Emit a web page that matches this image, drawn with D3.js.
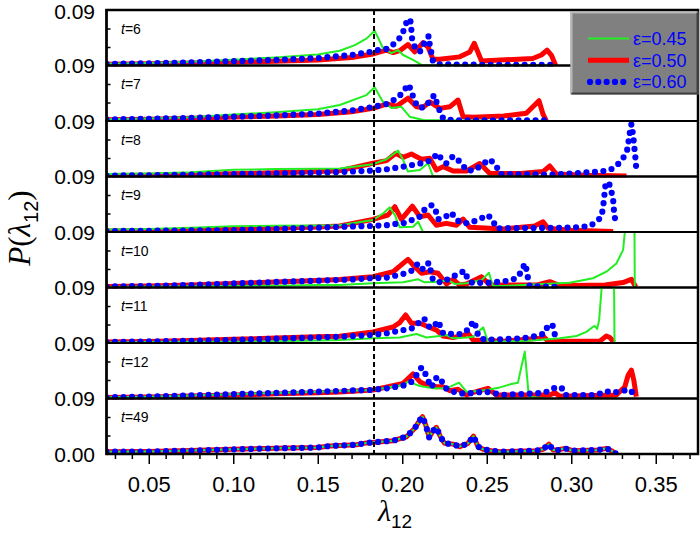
<!DOCTYPE html>
<html><head><meta charset="utf-8">
<script src="https://cdn.jsdelivr.net/npm/d3@7"></script>
<style>body{margin:0;background:#fff}svg{display:block}</style>
</head><body><svg id="c" width="700" height="534"></svg>
<script>
// ---------- data ----------
const tLabels = ["6","7","8","9","10","11","12","49"];
const seriesLabels = ["ε=0.45","ε=0.50","ε=0.60"];
const yTickLabels = ["0.09","0.09","0.09","0.09","0.09","0.09","0.09","0.09","0.00"];
const xMajorTicks = [0.05,0.10,0.15,0.20,0.25,0.30,0.35];
const xMinorTicks = [0.03,0.04,0.06,0.07,0.08,0.09,0.11,0.12,0.13,0.14,0.16,0.17,0.18,0.19,0.21,0.22,0.23,0.24,0.26,0.27,0.28,0.29,0.31,0.32,0.33,0.34,0.36,0.37];
const yMinorTicks = [0.03,0.06];
const xDomain = [0.025,0.375];
const yDomain = [0,0.09];
const lambdaC = 0.1833;

const green_t6 = [[0.025,0.003],[0.05,0.004],[0.075,0.006],[0.10,0.0095],[0.125,0.013],[0.15,0.018],[0.163,0.024],[0.172,0.033],[0.179,0.044],[0.1837,0.0565],[0.1886,0.028],[0.1936,0.020],[0.1975,0.025],[0.2005,0.017],[0.2064,0.009],[0.2114,0.001],[0.25,0.0005],[0.29,0.0005]];
const red_t6 = [[0.025,0.0022],[0.05,0.003],[0.075,0.004],[0.10,0.0055],[0.125,0.007],[0.15,0.009],[0.17,0.013],[0.1827,0.0187],[0.1907,0.025],[0.1946,0.021],[0.1985,0.024],[0.2034,0.034],[0.2074,0.022],[0.2123,0.037],[0.2153,0.030],[0.2182,0.010],[0.2222,0.010],[0.234,0.014],[0.240,0.022],[0.2426,0.036],[0.2469,0.0073],[0.2772,0.0114],[0.2823,0.017],[0.2857,0.025],[0.2882,0.017],[0.2908,0.0]];
const blue_t6 = [[0.025,0.0025],[0.05,0.0035],[0.075,0.005],[0.10,0.007],[0.125,0.009],[0.15,0.012],[0.17,0.017],[0.1808,0.022],[0.1857,0.025],[0.1907,0.027],[0.1956,0.036],[0.1999,0.049],[0.2015,0.063],[0.2034,0.076],[0.205,0.071],[0.2054,0.058],[0.2058,0.044],[0.2074,0.030],[0.2104,0.022],[0.2123,0.033],[0.2157,0.048],[0.2163,0.033],[0.2173,0.020],[0.2182,0.006],[0.2222,0.002],[0.25,0.001],[0.291,0.001]];

const green_t7 = [[0.025,0.003],[0.05,0.004],[0.075,0.006],[0.10,0.0105],[0.125,0.014],[0.15,0.019],[0.163,0.026],[0.1788,0.042],[0.1837,0.0546],[0.1886,0.031],[0.1936,0.021],[0.1995,0.023],[0.2044,0.007],[0.2123,0.0015],[0.25,0.0005],[0.285,0.0005]];
const red_t7 = [[0.025,0.0022],[0.05,0.003],[0.075,0.0045],[0.10,0.0065],[0.125,0.008],[0.15,0.0105],[0.17,0.015],[0.1827,0.0205],[0.1907,0.0275],[0.1966,0.024],[0.2034,0.037],[0.2084,0.023],[0.2123,0.022],[0.2163,0.031],[0.2222,0.0205],[0.2281,0.023],[0.233,0.034],[0.236,0.007],[0.242,0.006],[0.26,0.008],[0.2734,0.0125],[0.2809,0.033],[0.2833,0.011],[0.2853,0.0]];
const blue_t7 = [[0.025,0.0025],[0.05,0.0035],[0.075,0.005],[0.10,0.007],[0.125,0.009],[0.15,0.012],[0.17,0.017],[0.1808,0.022],[0.1907,0.0275],[0.1956,0.035],[0.2005,0.046],[0.2034,0.0595],[0.2054,0.050],[0.2068,0.035],[0.2094,0.022],[0.2133,0.022],[0.2167,0.034],[0.2189,0.042],[0.2212,0.023],[0.2242,0.004],[0.23,0.001],[0.285,0.001]];

const green_t8 = [[0.025,0.004],[0.05,0.005],[0.075,0.007],[0.10,0.011],[0.125,0.012],[0.15,0.0125],[0.163,0.013],[0.1827,0.020],[0.1907,0.028],[0.1975,0.042],[0.2005,0.027],[0.2034,0.008],[0.2104,0.0105],[0.2153,0.0215],[0.2182,0.0],[0.30,0.0]];
const red_t8 = [[0.025,0.0015],[0.05,0.002],[0.075,0.003],[0.10,0.0045],[0.125,0.006],[0.15,0.008],[0.163,0.0095],[0.1827,0.0215],[0.1907,0.0257],[0.1962,0.0376],[0.2005,0.031],[0.2054,0.0365],[0.2114,0.028],[0.2163,0.0295],[0.2202,0.0105],[0.2242,0.016],[0.2301,0.009],[0.238,0.009],[0.2459,0.021],[0.2518,0.005],[0.27,0.005],[0.2833,0.008],[0.2873,0.017],[0.2912,0.004],[0.31,0.002],[0.3327,0.001]];
const blue_t8 = [[0.025,0.0015],[0.05,0.002],[0.075,0.003],[0.10,0.004],[0.125,0.005],[0.15,0.006],[0.17,0.008],[0.1808,0.0095],[0.1907,0.0117],[0.2005,0.016],[0.2054,0.0185],[0.2114,0.0215],[0.2163,0.0257],[0.2182,0.029],[0.2208,0.0376],[0.2236,0.027],[0.2261,0.0215],[0.2301,0.033],[0.235,0.022],[0.238,0.0095],[0.243,0.0105],[0.2469,0.0185],[0.2518,0.028],[0.2557,0.017],[0.2577,0.004],[0.29,0.003],[0.3169,0.008],[0.3228,0.0105],[0.3267,0.017],[0.3306,0.029],[0.3332,0.044],[0.3346,0.070],[0.3356,0.085],[0.3366,0.067],[0.3376,0.040],[0.3382,0.024],[0.3385,0.0095]];

const green_t9 = [[0.025,0.004],[0.05,0.005],[0.075,0.007],[0.10,0.0095],[0.125,0.010],[0.15,0.0105],[0.163,0.011],[0.1827,0.0195],[0.1886,0.030],[0.1926,0.040],[0.1956,0.0276],[0.1985,0.0076],[0.2064,0.0086],[0.2094,0.0167],[0.2123,0.0],[0.30,0.0]];
const red_t9 = [[0.025,0.0015],[0.05,0.002],[0.075,0.003],[0.10,0.0045],[0.125,0.006],[0.15,0.008],[0.163,0.0097],[0.1827,0.0205],[0.1916,0.0276],[0.1956,0.041],[0.1995,0.0205],[0.206,0.042],[0.2104,0.0248],[0.2153,0.0276],[0.2202,0.011],[0.2261,0.014],[0.2321,0.011],[0.236,0.021],[0.2400,0.0076],[0.26,0.005],[0.2784,0.0097],[0.2833,0.0167],[0.2863,0.006],[0.30,0.003],[0.3248,0.001]];
const blue_t9 = [[0.025,0.0015],[0.05,0.002],[0.075,0.0025],[0.10,0.003],[0.125,0.005],[0.15,0.007],[0.17,0.009],[0.1808,0.0097],[0.1907,0.011],[0.1956,0.013],[0.2005,0.014],[0.2058,0.0195],[0.2104,0.0248],[0.2133,0.0368],[0.2176,0.0438],[0.2198,0.0346],[0.2212,0.0205],[0.2251,0.0238],[0.2291,0.0314],[0.2321,0.0195],[0.236,0.014],[0.24,0.015],[0.2448,0.0195],[0.2507,0.0276],[0.2537,0.018],[0.2557,0.006],[0.30,0.007],[0.311,0.0097],[0.3149,0.0167],[0.3179,0.0248],[0.3188,0.040],[0.3194,0.053],[0.3198,0.0654],[0.3204,0.080],[0.3224,0.079],[0.3238,0.0654],[0.3248,0.052],[0.3252,0.0368],[0.3258,0.0238],[0.3264,0.0097]];

const green_t10 = [[0.025,0.001],[0.05,0.0015],[0.075,0.002],[0.10,0.0024],[0.125,0.003],[0.15,0.004],[0.163,0.004],[0.1827,0.0068],[0.2005,0.0084],[0.2094,0.0133],[0.2133,0.0084],[0.2222,0.0095],[0.2271,0.012],[0.2311,0.0057],[0.238,0.0068],[0.2469,0.012],[0.2513,0.024],[0.2537,0.0024],[0.2596,0.0024],[0.2833,0.0057],[0.2991,0.0078],[0.3129,0.015],[0.3208,0.0256],[0.3267,0.039],[0.3307,0.061],[0.3317,0.09],[0.333,0.2],[0.3372,0.2],[0.3376,0.0]];
const red_t10 = [[0.025,0.0015],[0.05,0.0025],[0.075,0.004],[0.10,0.0065],[0.125,0.009],[0.15,0.0115],[0.163,0.013],[0.1827,0.0175],[0.1946,0.0256],[0.2005,0.039],[0.2034,0.0457],[0.2074,0.0337],[0.2114,0.023],[0.2163,0.0256],[0.2212,0.023],[0.2262,0.0057],[0.2301,0.0133],[0.234,0.004],[0.238,0.0057],[0.2469,0.0175],[0.2518,0.004],[0.28,0.004],[0.2873,0.0095],[0.2932,0.003],[0.32,0.004],[0.3306,0.008],[0.3356,0.0133],[0.3382,0.001]];
const blue_t10 = [[0.025,0.0015],[0.05,0.0025],[0.075,0.004],[0.10,0.0065],[0.125,0.009],[0.15,0.011],[0.17,0.013],[0.1808,0.015],[0.1907,0.016],[0.2005,0.0219],[0.2054,0.027],[0.2094,0.039],[0.2123,0.0295],[0.2157,0.040],[0.2182,0.012],[0.2232,0.0078],[0.2281,0.015],[0.233,0.0219],[0.237,0.027],[0.2389,0.012],[0.2419,0.0068],[0.2469,0.0078],[0.2524,0.0078],[0.2577,0.0095],[0.2626,0.011],[0.2676,0.015],[0.2705,0.0256],[0.2725,0.039],[0.2735,0.0295],[0.2744,0.015],[0.2754,0.002],[0.293,0.001]];

const green_t11 = [[0.025,0.001],[0.05,0.0015],[0.075,0.002],[0.10,0.002],[0.125,0.003],[0.15,0.004],[0.163,0.005],[0.1827,0.0076],[0.1985,0.009],[0.2084,0.0146],[0.2143,0.009],[0.2222,0.0113],[0.2262,0.013],[0.2301,0.0076],[0.238,0.009],[0.2419,0.010],[0.2479,0.0254],[0.2507,0.002],[0.2744,0.0035],[0.2932,0.0076],[0.3031,0.0113],[0.309,0.018],[0.3129,0.0265],[0.314,0.0275],[0.3153,0.0227],[0.3165,0.037],[0.3180,0.09],[0.3185,0.2],[0.3250,0.2],[0.3256,0.001]];
const red_t11 = [[0.025,0.0015],[0.05,0.0025],[0.075,0.004],[0.10,0.006],[0.125,0.008],[0.15,0.010],[0.163,0.011],[0.1827,0.018],[0.1946,0.026],[0.1985,0.033],[0.202,0.0454],[0.2054,0.032],[0.2104,0.032],[0.2153,0.0264],[0.2203,0.021],[0.2242,0.0113],[0.2301,0.009],[0.236,0.012],[0.2389,0.0157],[0.2419,0.005],[0.26,0.003],[0.2814,0.0076],[0.2833,0.0113],[0.2863,0.003],[0.3169,0.003],[0.3208,0.0113],[0.3228,0.009],[0.3252,0.001]];
const blue_t11 = [[0.025,0.0015],[0.05,0.0025],[0.075,0.0035],[0.10,0.005],[0.125,0.007],[0.15,0.009],[0.17,0.011],[0.1808,0.013],[0.1907,0.0157],[0.2005,0.021],[0.2058,0.0238],[0.2094,0.032],[0.2129,0.040],[0.2159,0.0264],[0.2182,0.025],[0.2212,0.036],[0.2242,0.0157],[0.2301,0.0146],[0.235,0.0146],[0.24,0.0238],[0.2419,0.036],[0.2439,0.025],[0.2449,0.0113],[0.2488,0.005],[0.2577,0.006],[0.27,0.0076],[0.2744,0.009],[0.2794,0.0113],[0.2843,0.0157],[0.2863,0.0292],[0.2889,0.0292],[0.2902,0.0146],[0.291,0.002]];

const green_t12 = [[0.025,0.002],[0.05,0.003],[0.075,0.005],[0.10,0.007],[0.125,0.009],[0.15,0.011],[0.163,0.012],[0.1827,0.0138],[0.2005,0.0219],[0.2034,0.0273],[0.2104,0.0203],[0.2182,0.0165],[0.2261,0.0165],[0.2336,0.0257],[0.238,0.011],[0.2419,0.0115],[0.2498,0.0138],[0.2577,0.018],[0.2646,0.0235],[0.2685,0.0257],[0.2705,0.0516],[0.2725,0.076],[0.2735,0.046],[0.2749,0.003],[0.285,0.0]];
const red_t12 = [[0.025,0.0015],[0.05,0.0025],[0.075,0.004],[0.10,0.0055],[0.125,0.0075],[0.15,0.0095],[0.163,0.0105],[0.1827,0.0138],[0.2005,0.0246],[0.2064,0.040],[0.2104,0.0273],[0.2143,0.022],[0.2202,0.019],[0.2242,0.019],[0.2281,0.0127],[0.233,0.015],[0.238,0.0057],[0.24,0.0084],[0.2507,0.0165],[0.2557,0.0057],[0.2873,0.0057],[0.2902,0.0095],[0.2932,0.0035],[0.3267,0.0057],[0.3317,0.019],[0.3337,0.038],[0.3356,0.046],[0.337,0.030],[0.3385,0.003]];
const blue_t12 = [[0.025,0.002],[0.05,0.003],[0.075,0.005],[0.10,0.007],[0.125,0.009],[0.15,0.011],[0.17,0.013],[0.1808,0.0138],[0.1907,0.0165],[0.2005,0.0208],[0.2054,0.027],[0.2084,0.038],[0.2114,0.0505],[0.2133,0.0425],[0.2153,0.029],[0.2173,0.018],[0.2198,0.033],[0.2226,0.034],[0.2246,0.019],[0.2281,0.0127],[0.234,0.0084],[0.2386,0.0078],[0.2425,0.0095],[0.2488,0.011],[0.2537,0.0095],[0.2586,0.0057],[0.2794,0.0084],[0.2843,0.0095],[0.2893,0.0165],[0.2942,0.018],[0.2962,0.0057],[0.3149,0.0057],[0.3202,0.012],[0.3252,0.0095],[0.3303,0.0127],[0.3352,0.0138],[0.336,0.01]];

const all_t49 = [[0.025,0.0037],[0.05,0.004],[0.075,0.0055],[0.10,0.0076],[0.125,0.0092],[0.15,0.0105],[0.157,0.013],[0.1729,0.015],[0.1788,0.018],[0.1946,0.0216],[0.2025,0.028],[0.2074,0.0416],[0.2104,0.055],[0.212,0.0605],[0.2139,0.047],[0.2159,0.027],[0.2183,0.0378],[0.2202,0.0432],[0.2226,0.028],[0.2251,0.0173],[0.2301,0.016],[0.234,0.0119],[0.2389,0.0173],[0.2422,0.029],[0.2448,0.0119],[0.2479,0.0076],[0.2528,0.0054],[0.2577,0.0037],[0.2794,0.0054],[0.2833,0.0076],[0.2868,0.016],[0.2893,0.0065],[0.2922,0.0065],[0.2962,0.0092],[0.3011,0.0054],[0.3159,0.0065],[0.3208,0.0092],[0.3238,0.0054],[0.3267,0.0]];

const greenSeries = [green_t6,green_t7,green_t8,green_t9,green_t10,green_t11,green_t12,all_t49];
const redSeries   = [red_t6,red_t7,red_t8,red_t9,red_t10,red_t11,red_t12,all_t49];
const blueSeries  = [blue_t6,blue_t7,blue_t8,blue_t9,blue_t10,blue_t11,blue_t12,all_t49];

// ---------- layout ----------
const L=106.5, R=698, T=10, B=454;
const nP = tLabels.length, ph = (B-T)/nP;
const FONT = "'Liberation Sans', Arial, sans-serif";
const SERIF = "'Liberation Serif', 'Times New Roman', serif";
const GREEN="#22ee22", RED="#ff0000", BLUE="#0000ff";

const svg = d3.select("#c");
const x = d3.scaleLinear().domain(xDomain).range([L,R]);
const line = d3.line().x(d=>x(d[0]));

const defs = svg.append("defs");

tLabels.forEach((lab,i)=>{
  const y0 = T + i*ph;
  const y = d3.scaleLinear().domain(yDomain).range([y0+ph, y0]);
  defs.append("clipPath").attr("id","cp"+i).append("rect")
    .attr("x",L).attr("y",y0).attr("width",R-L).attr("height",ph+1);
  const g = svg.append("g").attr("clip-path","url(#cp"+i+")");
  const ln = line.y(d=>y(d[1]));
  g.append("path").datum(redSeries[i]).attr("d",ln).attr("fill","none")
    .attr("stroke",RED).attr("stroke-width",5).attr("stroke-linejoin","round");
  g.append("path").datum(greenSeries[i]).attr("d",ln).attr("fill","none")
    .attr("stroke",GREEN).attr("stroke-width",2).attr("stroke-linejoin","round");
  g.append("path").datum(blueSeries[i]).attr("d",ln).attr("fill","none")
    .attr("stroke",BLUE).attr("stroke-width",6.2).attr("stroke-linecap","round")
    .attr("stroke-dasharray","0,8.5");
  // inner y ticks
  svg.append("g").attr("transform",`translate(${L},0)`)
    .call(d3.axisRight(y).tickValues(yMinorTicks).tickSize(4).tickFormat(""))
    .call(a=>{a.select(".domain").remove(); a.selectAll("line").attr("stroke","#000").attr("stroke-width",1.5);});
  // panel frame
  svg.append("rect").attr("x",L).attr("y",y0).attr("width",R-L).attr("height",ph)
    .attr("fill","none").attr("stroke","#000").attr("stroke-width",2);
  // t label
  const t = svg.append("text").attr("x",121).attr("y",y0+23.5)
    .attr("font-family",FONT).attr("font-size",14).attr("fill","#000");
  t.append("tspan").attr("font-style","italic").text("t");
  t.append("tspan").text("="+lab);
});

// y tick labels at panel boundaries
yTickLabels.forEach((s,i)=>{
  svg.append("text").attr("x",95).attr("y",i===0 ? T+1.5 : T+i*ph).attr("dy","0.36em")
    .attr("text-anchor","end").attr("font-family",FONT).attr("font-size",21)
    .attr("fill","#000").text(s);
});

// dashed reference line
svg.append("line").attr("x1",x(lambdaC)).attr("x2",x(lambdaC)).attr("y1",T).attr("y2",B)
  .attr("stroke","#000").attr("stroke-width",2).attr("stroke-dasharray","5,3");

// x axis
svg.append("g").attr("transform",`translate(0,${B})`)
  .call(d3.axisBottom(x).tickValues(xMinorTicks).tickSize(5).tickFormat(""))
  .call(a=>{a.select(".domain").remove(); a.selectAll("line").attr("stroke","#000").attr("stroke-width",1.5);});
svg.append("g").attr("transform",`translate(0,${B})`)
  .call(d3.axisBottom(x).tickValues(xMajorTicks).tickSize(10).tickPadding(12).tickFormat(d3.format(".2f")))
  .call(a=>{a.select(".domain").remove(); a.selectAll("line").attr("stroke","#000").attr("stroke-width",1.5);
    a.selectAll("text").attr("font-family",FONT).attr("font-size",22).attr("fill","#000");});

// outer frame
svg.append("rect").attr("x",L).attr("y",T).attr("width",R-L).attr("height",B-T)
  .attr("fill","none").attr("stroke","#000").attr("stroke-width",2.5);

// axis titles
const yt = svg.append("text").attr("transform","translate(30,228) rotate(-90)")
  .attr("text-anchor","middle").attr("font-family",SERIF).attr("font-size",31).attr("fill","#000");
yt.append("tspan").attr("font-style","italic").text("P");
yt.append("tspan").text("(");
yt.append("tspan").attr("font-style","italic").text("λ");
yt.append("tspan").attr("font-family",FONT).attr("font-size",20).attr("dy",8).text("12");
yt.append("tspan").attr("dy",-8).text(")");

const xt = svg.append("text").attr("x",395).attr("y",521)
  .attr("text-anchor","middle").attr("font-family",SERIF).attr("font-size",30).attr("fill","#000");
xt.append("tspan").attr("font-style","italic").text("λ");
xt.append("tspan").attr("font-family",FONT).attr("font-size",19).attr("dy",7).text("12");

// legend
const lg = svg.append("g");
const lx0=570.5, ly0=11.5, lx1=698.5, ly1=94.5;
lg.append("rect").attr("x",lx0).attr("y",ly0).attr("width",lx1-lx0).attr("height",ly1-ly0).attr("fill","#808080");
lg.append("path").attr("d",`M${lx0+1},${ly1-1}V${ly0+1}H${lx1-1}`).attr("fill","none").attr("stroke","#b8b8b8").attr("stroke-width",2);
lg.append("path").attr("d",`M${lx0+1},${ly1-1}H${lx1-1}V${ly0+1}`).attr("fill","none").attr("stroke","#404040").attr("stroke-width",2);
const legColors=[GREEN,RED,BLUE], legWidths=[2,5,6.2];
seriesLabels.forEach((s,i)=>{
  const yy = 38.5 + i*21.7;
  const p = lg.append("path").attr("d",d3.line()([[i===2?590:588,yy],[i===2?624:629,yy]]))
    .attr("stroke",legColors[i]).attr("stroke-width",legWidths[i]).attr("fill","none");
  if(i===2) p.attr("stroke-linecap","round").attr("stroke-dasharray","0,8.33");
  lg.append("text").attr("x",633).attr("y",yy+6.5).attr("font-family",FONT).attr("font-size",18)
    .attr("fill",BLUE).text(s);
});
</script></body></html>
